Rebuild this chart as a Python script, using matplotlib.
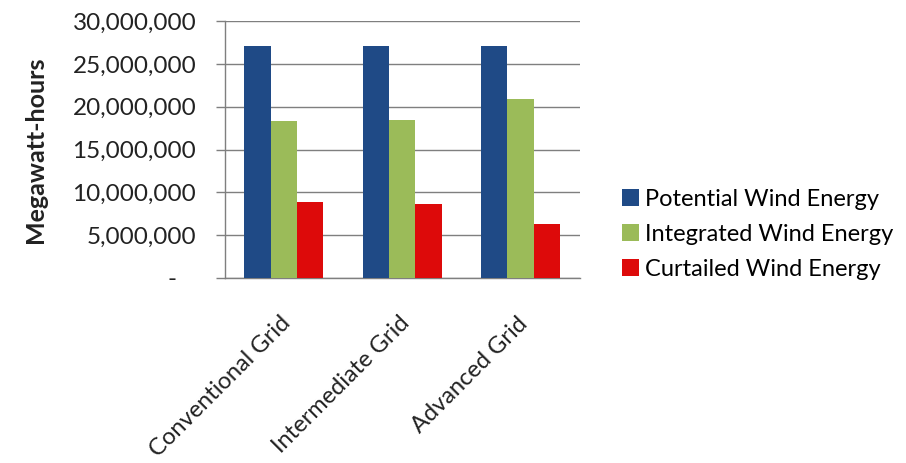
import matplotlib
matplotlib.use("Agg")
import matplotlib.pyplot as plt
import matplotlib.transforms as mtransforms
import numpy as np

categories = ["Conventional Grid", "Intermediate Grid", "Advanced Grid"]
series_names = ["Potential Wind Energy", "Integrated Wind Energy", "Curtailed Wind Energy"]
potential = [27100000, 27100000, 27100000]
integrated = [18300000, 18500000, 20900000]
curtailed = [8850000, 8650000, 6300000]
colors = ["#1F4A86", "#9BBB59", "#DD0A0A"]
yticks = [0, 5000000, 10000000, 15000000, 20000000, 25000000, 30000000]

plt.rcParams["font.family"] = ["Lato", "DejaVu Sans"]

fig = plt.figure(figsize=(9.06, 4.63), dpi=100)
ax = fig.add_axes([0.248, 0.3996, 0.392, 0.5550])

x = np.arange(len(categories))
w = 0.223
for i, (vals, c) in enumerate(zip([potential, integrated, curtailed], colors)):
    ax.bar(x + (i - 1) * w, vals, width=w, color=c, label=series_names[i], zorder=3)

ax.set_xlim(-0.5, len(categories) - 0.5)
ax.set_ylim(0, 30000000)
ax.set_yticks(yticks)
ax.set_yticklabels([f"{v:,.0f}" if v else "-   " for v in yticks], fontsize=17.5, color="#222222")
ax.yaxis.grid(True, color="#7F7F7F", linewidth=1.0, zorder=0)
ax.set_axisbelow(True)

ax.set_xticks(x)
ax.set_xticklabels(categories, rotation=45, ha="right", va="top", rotation_mode="anchor",
                   fontsize=17, color="#222222")
ax.tick_params(axis="x", length=0, pad=25)
ax.tick_params(axis="y", length=6.5, width=1, color="#7F7F7F", pad=14)
# nudge the slanted category labels slightly left
shift = mtransforms.ScaledTranslation(-4 / 100, 0, fig.dpi_scale_trans)
for lbl in ax.get_xticklabels():
    lbl.set_transform(lbl.get_transform() + shift)

for s in ["top", "right"]:
    ax.spines[s].set_visible(False)
for s in ["left", "bottom"]:
    ax.spines[s].set_color("#7F7F7F")
    ax.spines[s].set_linewidth(1.0)

ax.set_ylabel("Megawatt-hours", fontsize=18, fontweight="bold", color="#222222", labelpad=18)

fig.legend(loc="center left", bbox_to_anchor=(0.6766, 0.494), frameon=False,
           fontsize=17, handlelength=0.7, handleheight=0.7, handletextpad=0.25,
           labelspacing=0.6, borderaxespad=0)

fig.savefig("out.png", dpi=100)
